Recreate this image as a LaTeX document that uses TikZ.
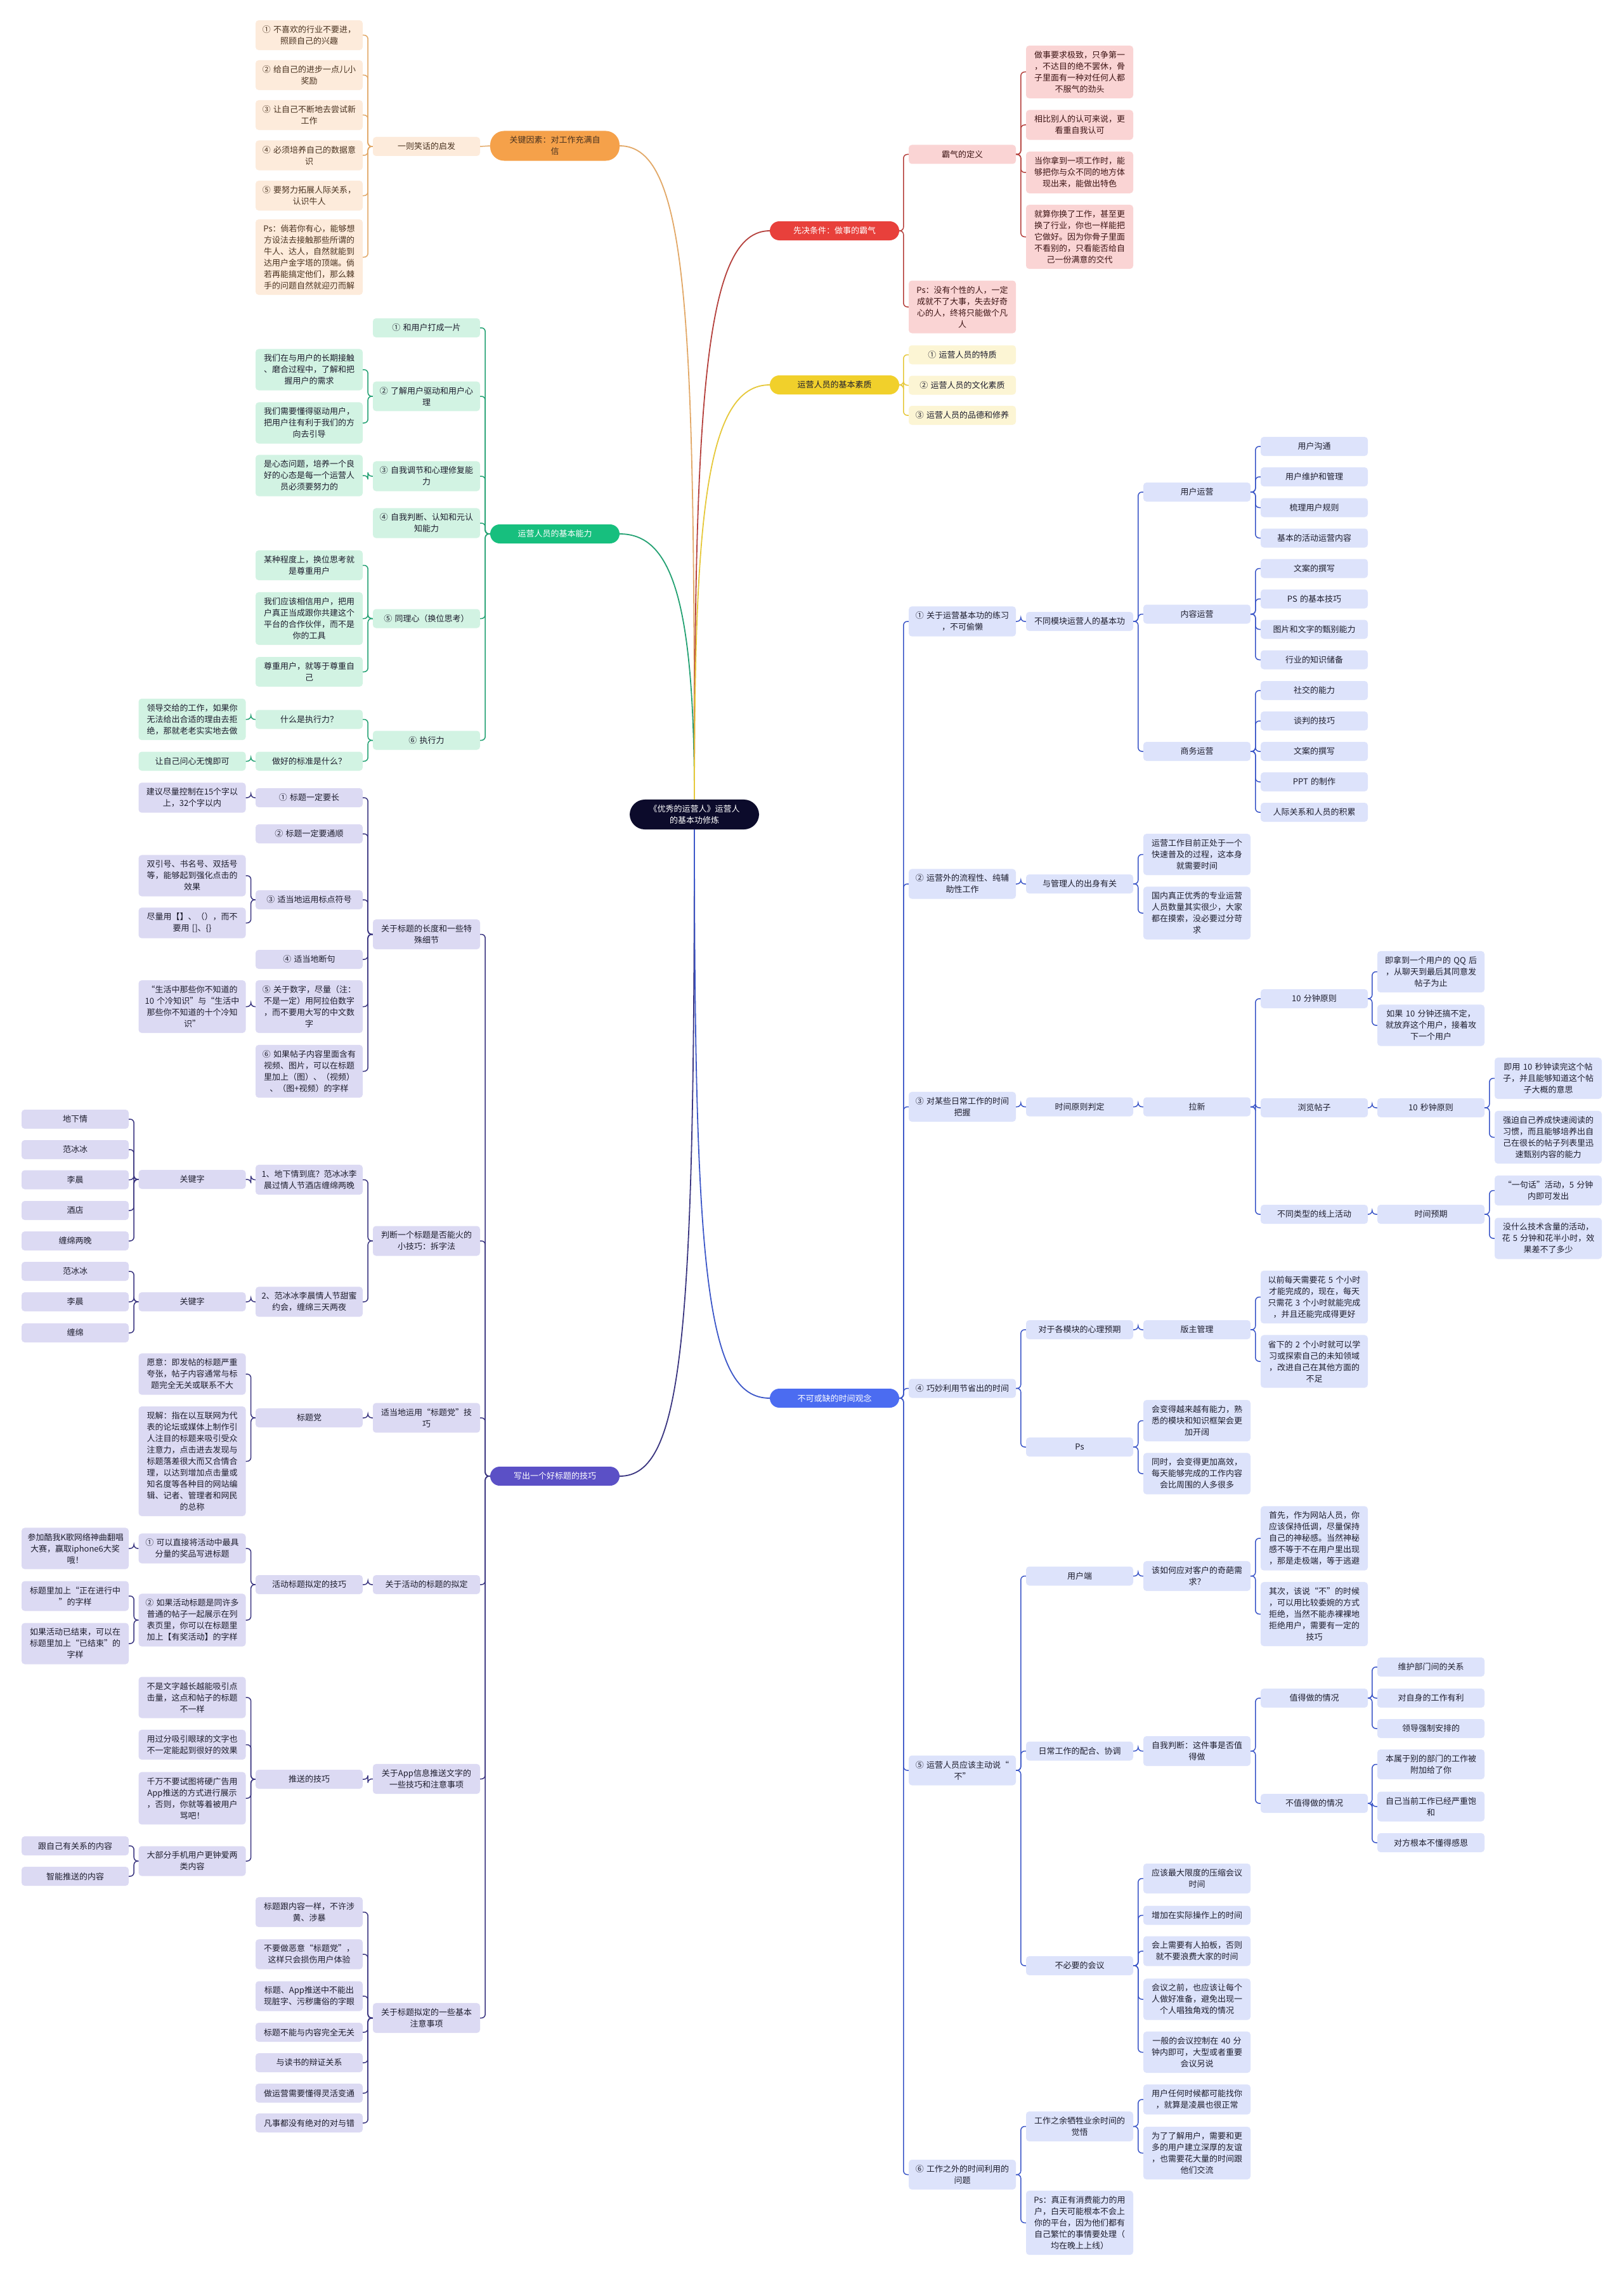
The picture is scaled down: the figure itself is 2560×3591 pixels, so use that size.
\documentclass[tikz,border=0pt]{standalone}
\usepackage{fontspec}
\setmainfont{Noto Sans CJK SC}
\usepackage{tikz}

\definecolor{rootfill}{HTML}{0C0B2B}
\definecolor{orgpill}{HTML}{F5A14A}
\definecolor{orgfill}{HTML}{FDEBDB}
\definecolor{orgline}{HTML}{E2A867}
\definecolor{orgtext}{HTML}{4A3320}
\definecolor{redpill}{HTML}{E8403B}
\definecolor{redfill}{HTML}{FAD4D4}
\definecolor{redline}{HTML}{B5403C}
\definecolor{redtext}{HTML}{3D1515}
\definecolor{yelpill}{HTML}{F1D02B}
\definecolor{yelfill}{HTML}{FCF5D4}
\definecolor{yelline}{HTML}{E6C83A}
\definecolor{grnpill}{HTML}{17BF7E}
\definecolor{grnfill}{HTML}{D2F3E3}
\definecolor{grnline}{HTML}{23A172}
\definecolor{purpill}{HTML}{5B50C6}
\definecolor{purfill}{HTML}{DCDAF3}
\definecolor{purline}{HTML}{3A3580}
\definecolor{blupill}{HTML}{4B6CF1}
\definecolor{blufill}{HTML}{DDE3FB}
\definecolor{bluline}{HTML}{3C57C8}
\definecolor{leaftext}{HTML}{1E1E2E}

\tikzset{
  leaf/.style={rounded corners=5pt, align=center, text width=150pt, inner xsep=9.5pt,
    inner ysep=8.5pt, minimum height=30pt, text=leaftext, font=\fontsize{13}{18}\selectfont},
  pill/.style={rounded corners=15pt, align=center, text width=150pt, inner xsep=27pt,
    inner ysep=8.5pt, minimum height=30pt, text=white, font=\fontsize{13}{18}\selectfont},
  root/.style={pill, fill=rootfill, rounded corners=24pt},
  orgpill/.style={pill, fill=orgpill, text=orgtext, rounded corners=22pt},
  redpill/.style={pill, fill=redpill},
  yelpill/.style={pill, fill=yelpill, text=leaftext},
  grnpill/.style={pill, fill=grnpill},
  purpill/.style={pill, fill=purpill},
  blupill/.style={pill, fill=blupill},
  orgleaf/.style={leaf, fill=orgfill, text=orgtext},
  redleaf/.style={leaf, fill=redfill, text=redtext},
  yelleaf/.style={leaf, fill=yelfill},
  grnleaf/.style={leaf, fill=grnfill},
  purleaf/.style={leaf, fill=purfill},
  bluleaf/.style={leaf, fill=blufill},
  link/.style={line width=1.5pt, rounded corners=6pt},
  orglink/.style={link, draw=orgline},
  redlink/.style={link, draw=redline},
  yellink/.style={link, draw=yelline},
  grnlink/.style={link, draw=grnline},
  purlink/.style={link, draw=purline},
  blulink/.style={link, draw=bluline},
}

\begin{document}
\begin{tikzpicture}[x=1pt,y=-1pt]
  \fill[white] (0,0) rectangle (2560,3591);
  \useasboundingbox (0,0) rectangle (2560,3591);

  \node[root] (root) at (1095,1284.5) {《优秀的运营人》运营人\\的基本功修炼};

  % orange
  \node[orgpill] (key) at (875,230) {关键因素：对工作充满自\\信};
  \node[orgleaf] (joke) at (672.5,231) {一则笑话的启发};
  \node[orgleaf] (o1) at (487.5,55.5) {① 不喜欢的行业不要进，\\照顾自己的兴趣};
  \node[orgleaf] (o2) at (487.5,118.5) {② 给自己的进步一点儿小\\奖励};
  \node[orgleaf] (o3) at (487.5,181.5) {③ 让自己不断地去尝试新\\工作};
  \node[orgleaf] (o4) at (487.5,245) {④ 必须培养自己的数据意\\识};
  \node[orgleaf] (o5) at (487.5,308.5) {⑤ 要努力拓展人际关系，\\认识牛人};
  \node[orgleaf] (o6) at (487.5,405.5) {Ps：倘若你有心，能够想\\方设法去接触那些所谓的\\牛人、达人，自然就能到\\达用户金字塔的顶端。倘\\若再能搞定他们，那么棘\\手的问题自然就迎刃而解};

  % red
  \node[redpill] (pre) at (1316,364) {先决条件：做事的霸气};
  \node[redleaf] (r1) at (1517.5,243.5) {霸气的定义};
  \node[redleaf] (r2) at (1517.5,484) {Ps：没有个性的人，一定\\成就不了大事，失去好奇\\心的人，终将只能做个凡\\人};
  \node[redleaf] (r11) at (1702.5,113.5) {做事要求极致，只争第一\\，不达目的绝不罢休，骨\\子里面有一种对任何人都\\不服气的劲头};
  \node[redleaf] (r12) at (1702.5,197) {相比别人的认可来说，更\\看重自我认可};
  \node[redleaf] (r13) at (1702.5,272) {当你拿到一项工作时，能\\够把你与众不同的地方体\\现出来，能做出特色};
  \node[redleaf] (r14) at (1702.5,373.5) {就算你换了工作，甚至更\\换了行业，你也一样能把\\它做好。因为你骨子里面\\不看别的，只看能否给自\\己一份满意的交代};

  % yellow
  \node[yelpill] (qual) at (1316,607) {运营人员的基本素质};
  \node[yelleaf] (y1) at (1517.5,559.5) {① 运营人员的特质};
  \node[yelleaf] (y2) at (1517.5,607.5) {② 运营人员的文化素质};
  \node[yelleaf] (y3) at (1517.5,655) {③ 运营人员的品德和修养};

  % green
  \node[grnpill] (abil) at (875,842) {运营人员的基本能力};
  \node[grnleaf] (g1) at (672.5,517) {① 和用户打成一片};
  \node[grnleaf] (g2) at (672.5,625) {② 了解用户驱动和用户心\\理};
  \node[grnleaf] (g3) at (672.5,751) {③ 自我调节和心理修复能\\力};
  \node[grnleaf] (g4) at (672.5,825) {④ 自我判断、认知和元认\\知能力};
  \node[grnleaf] (g5) at (672.5,975.5) {⑤ 同理心（换位思考）};
  \node[grnleaf] (g6) at (672.5,1167.5) {⑥ 执行力};
  \node[grnleaf] (g21) at (487.5,583) {我们在与用户的长期接触\\、磨合过程中，了解和把\\握用户的需求};
  \node[grnleaf] (g22) at (487.5,667) {我们需要懂得驱动用户，\\把用户往有利于我们的方\\向去引导};
  \node[grnleaf] (g31) at (487.5,750) {是心态问题，培养一个良\\好的心态是每一个运营人\\员必须要努力的};
  \node[grnleaf] (g51) at (487.5,891.5) {某种程度上，换位思考就\\是尊重用户};
  \node[grnleaf] (g52) at (487.5,975.5) {我们应该相信用户，把用\\户真正当成跟你共建这个\\平台的合作伙伴，而不是\\你的工具};
  \node[grnleaf] (g53) at (487.5,1059.5) {尊重用户，就等于尊重自\\己};
  \node[grnleaf] (g61) at (487.5,1134.5) {什么是执行力？};
  \node[grnleaf] (g62) at (487.5,1200.5) {做好的标准是什么？};
  \node[grnleaf] (g611) at (303,1134.5) {领导交给的工作，如果你\\无法给出合适的理由去拒\\绝，那就老老实实地去做};
  \node[grnleaf] (g621) at (303,1200.5) {让自己问心无愧即可};

  % purple
  \node[purpill] (title) at (875,2328) {写出一个好标题的技巧};
  \node[purleaf] (p1) at (672.5,1473.5) {关于标题的长度和一些特\\殊细节};
  \node[purleaf] (p2) at (672.5,1957) {判断一个标题是否能火的\\小技巧：拆字法};
  \node[purleaf] (p3) at (672.5,2236) {适当地运用“标题党”技\\巧};
  \node[purleaf] (p4) at (672.5,2499) {关于活动的标题的拟定};
  \node[purleaf] (p5) at (672.5,2805.5) {关于App信息推送文字的\\一些技巧和注意事项};
  \node[purleaf] (p6) at (672.5,3182.5) {关于标题拟定的一些基本\\注意事项};

  \node[purleaf] (p11) at (487.5,1258) {① 标题一定要长};
  \node[purleaf] (p12) at (487.5,1315) {② 标题一定要通顺};
  \node[purleaf] (p13) at (487.5,1419) {③ 适当地运用标点符号};
  \node[purleaf] (p14) at (487.5,1513) {④ 适当地断句};
  \node[purleaf] (p15) at (487.5,1587.5) {⑤ 关于数字，尽量（注：\\不是一定）用阿拉伯数字\\，而不要用大写的中文数\\字};
  \node[purleaf] (p16) at (487.5,1689.5) {⑥ 如果帖子内容里面含有\\视频、图片，可以在标题\\里加上（图）、（视频）\\、（图+视频）的字样};
  \node[purleaf] (p111) at (303,1258) {建议尽量控制在15个字以\\上，32个字以内};
  \node[purleaf] (p131) at (303,1381) {双引号、书名号、双括号\\等，能够起到强化点击的\\效果};
  \node[purleaf] (p132) at (303,1455.5) {尽量用【】、（），而不\\要用 []、\{\}};
  \node[purleaf] (p151) at (303,1587.5) {“生活中那些你不知道的\\10 个冷知识”与“生活中\\那些你不知道的十个冷知\\识”};

  \node[purleaf] (p21) at (487.5,1860.5) {1、地下情到底？范冰冰李\\晨过情人节酒店缠绵两晚};
  \node[purleaf] (p22) at (487.5,2053) {2、范冰冰李晨情人节甜蜜\\约会，缠绵三天两夜};
  \node[purleaf] (p211) at (303,1860) {关键字};
  \node[purleaf] (p221) at (303,2053) {关键字};
  \node[purleaf] (k1) at (118.5,1765) {地下情};
  \node[purleaf] (k2) at (118.5,1813) {范冰冰};
  \node[purleaf] (k3) at (118.5,1860.5) {李晨};
  \node[purleaf] (k4) at (118.5,1909) {酒店};
  \node[purleaf] (k5) at (118.5,1957) {缠绵两晚};
  \node[purleaf] (k6) at (118.5,2005) {范冰冰};
  \node[purleaf] (k7) at (118.5,2053) {李晨};
  \node[purleaf] (k8) at (118.5,2102) {缠绵};

  \node[purleaf] (p31) at (487.5,2236) {标题党};
  \node[purleaf] (p311) at (303,2167) {愿意：即发帖的标题严重\\夸张，帖子内容通常与标\\题完全无关或联系不大};
  \node[purleaf] (p312) at (303,2304.5) {现解：指在以互联网为代\\表的论坛或媒体上制作引\\人注目的标题来吸引受众\\注意力，点击进去发现与\\标题落差很大而又合情合\\理，以达到增加点击量或\\知名度等各种目的网站编\\辑、记者、管理者和网民\\的总称};

  \node[purleaf] (p41) at (487.5,2499) {活动标题拟定的技巧};
  \node[purleaf] (p411) at (303,2442) {① 可以直接将活动中最具\\分量的奖品写进标题};
  \node[purleaf] (p412) at (303,2555) {② 如果活动标题是同许多\\普通的帖子一起展示在列\\表页里，你可以在标题里\\加上【有奖活动】的字样};
  \node[purleaf] (p4111) at (118.5,2442) {参加酷我K歌网络神曲翻唱\\大赛，赢取iphone6大奖\\哦！};
  \node[purleaf] (p4121) at (118.5,2517) {标题里加上“正在进行中\\”的字样};
  \node[purleaf] (p4122) at (118.5,2592) {如果活动已结束，可以在\\标题里加上“已结束”的\\字样};

  \node[purleaf] (p51) at (487.5,2806) {推送的技巧};
  \node[purleaf] (p511) at (303,2677) {不是文字越长越能吸引点\\击量，这点和帖子的标题\\不一样};
  \node[purleaf] (p512) at (303,2751.5) {用过分吸引眼球的文字也\\不一定能起到很好的效果};
  \node[purleaf] (p513) at (303,2836) {千万不要试图将硬广告用\\App推送的方式进行展示\\，否则，你就等着被用户\\骂吧！};
  \node[purleaf] (p514) at (303,2935) {大部分手机用户更钟爱两\\类内容};
  \node[purleaf] (p5141) at (118.5,2911) {跟自己有关系的内容};
  \node[purleaf] (p5142) at (118.5,2959) {智能推送的内容};

  \node[purleaf] (p61) at (487.5,3015.5) {标题跟内容一样，不许涉\\黄、涉暴};
  \node[purleaf] (p62) at (487.5,3082) {不要做恶意“标题党”，\\这样只会损伤用户体验};
  \node[purleaf] (p63) at (487.5,3148) {标题、App推送中不能出\\现脏字、污秽庸俗的字眼};
  \node[purleaf] (p64) at (487.5,3205) {标题不能与内容完全无关};
  \node[purleaf] (p65) at (487.5,3253) {与读书的辩证关系};
  \node[purleaf] (p66) at (487.5,3301) {做运营需要懂得灵活变通};
  \node[purleaf] (p67) at (487.5,3348) {凡事都没有绝对的对与错};

  % blue
  \node[blupill] (time) at (1316,2205) {不可或缺的时间观念};
  \node[bluleaf] (b1) at (1517.5,980) {① 关于运营基本功的练习\\，不可偷懒};
  \node[bluleaf] (b2) at (1517.5,1394) {② 运营外的流程性、纯辅\\助性工作};
  \node[bluleaf] (b3) at (1517.5,1745.5) {③ 对某些日常工作的时间\\把握};
  \node[bluleaf] (b4) at (1517.5,2189.5) {④ 巧妙利用节省出的时间};
  \node[bluleaf] (b5) at (1517.5,2792) {⑤ 运营人员应该主动说“\\不”};
  \node[bluleaf] (b6) at (1517.5,3429.5) {⑥ 工作之外的时间利用的\\问题};

  \node[bluleaf] (b11) at (1702.5,980) {不同模块运营人的基本功};
  \node[bluleaf] (b111) at (1887.5,776) {用户运营};
  \node[bluleaf] (b112) at (1887.5,968.5) {内容运营};
  \node[bluleaf] (b113) at (1887.5,1185) {商务运营};
  \node[bluleaf] (u1) at (2072.5,704) {用户沟通};
  \node[bluleaf] (u2) at (2072.5,752) {用户维护和管理};
  \node[bluleaf] (u3) at (2072.5,800.5) {梳理用户规则};
  \node[bluleaf] (u4) at (2072.5,848.5) {基本的活动运营内容};
  \node[bluleaf] (c1) at (2072.5,896.5) {文案的撰写};
  \node[bluleaf] (c2) at (2072.5,944.5) {PS 的基本技巧};
  \node[bluleaf] (c3) at (2072.5,992.5) {图片和文字的甄别能力};
  \node[bluleaf] (c4) at (2072.5,1040.5) {行业的知识储备};
  \node[bluleaf] (s1) at (2072.5,1089) {社交的能力};
  \node[bluleaf] (s2) at (2072.5,1137) {谈判的技巧};
  \node[bluleaf] (s3) at (2072.5,1185) {文案的撰写};
  \node[bluleaf] (s4) at (2072.5,1233) {PPT 的制作};
  \node[bluleaf] (s5) at (2072.5,1281) {人际关系和人员的积累};

  \node[bluleaf] (b21) at (1702.5,1394) {与管理人的出身有关};
  \node[bluleaf] (b211) at (1887.5,1347.5) {运营工作目前正处于一个\\快速普及的过程，这本身\\就需要时间};
  \node[bluleaf] (b212) at (1887.5,1440) {国内真正优秀的专业运营\\人员数量其实很少，大家\\都在摸索，没必要过分苛\\求};

  \node[bluleaf] (b31) at (1702.5,1745.5) {时间原则判定};
  \node[bluleaf] (b311) at (1887.5,1745.5) {拉新};
  \node[bluleaf] (tenmin) at (2072.5,1575) {10 分钟原则};
  \node[bluleaf] (post) at (2072.5,1747) {浏览帖子};
  \node[bluleaf] (online) at (2072.5,1915) {不同类型的线上活动};
  \node[bluleaf] (tm1) at (2256.5,1532.5) {即拿到一个用户的 QQ 后\\，从聊天到最后其同意发\\帖子为止};
  \node[bluleaf] (tm2) at (2256.5,1617) {如果 10 分钟还搞不定，\\就放弃这个用户，接着攻\\下一个用户};
  \node[bluleaf] (tensec) at (2256.5,1747) {10 秒钟原则};
  \node[bluleaf] (expect) at (2256.5,1915) {时间预期};
  \node[bluleaf] (ts1) at (2441.5,1700.5) {即用 10 秒钟读完这个帖\\子，并且能够知道这个帖\\子大概的意思};
  \node[bluleaf] (ts2) at (2441.5,1793.5) {强迫自己养成快速阅读的\\习惯，而且能够培养出自\\己在很长的帖子列表里迅\\速甄别内容的能力};
  \node[bluleaf] (ex1) at (2441.5,1877.5) {“一句话”活动，5 分钟\\内即可发出};
  \node[bluleaf] (ex2) at (2441.5,1953) {没什么技术含量的活动，\\花 5 分钟和花半小时，效\\果差不了多少};

  \node[bluleaf] (b41) at (1702.5,2097) {对于各模块的心理预期};
  \node[bluleaf] (b42) at (1702.5,2282) {Ps};
  \node[bluleaf] (b411) at (1887.5,2097) {版主管理};
  \node[bluleaf] (b4111) at (2072.5,2045.5) {以前每天需要花 5 个小时\\才能完成的，现在，每天\\只需花 3 个小时就能完成\\，并且还能完成得更好};
  \node[bluleaf] (b4112) at (2072.5,2147) {省下的 2 个小时就可以学\\习或探索自己的未知领域\\，改进自己在其他方面的\\不足};
  \node[bluleaf] (b421) at (1887.5,2240.5) {会变得越来越有能力，熟\\悉的模块和知识框架会更\\加开阔};
  \node[bluleaf] (b422) at (1887.5,2324) {同时，会变得更加高效，\\每天能够完成的工作内容\\会比周围的人多很多};

  \node[bluleaf] (b51) at (1702.5,2485.5) {用户端};
  \node[bluleaf] (b52) at (1702.5,2761.5) {日常工作的配合、协调};
  \node[bluleaf] (b53) at (1702.5,3100) {不必要的会议};
  \node[bluleaf] (b511) at (1887.5,2485.5) {该如何应对客户的奇葩需\\求？};
  \node[bluleaf] (b5111) at (2072.5,2426) {首先，作为网站人员，你\\应该保持低调，尽量保持\\自己的神秘感。当然神秘\\感不等于不在用户里出现\\，那是走极端，等于逃避};
  \node[bluleaf] (b5112) at (2072.5,2545.5) {其次，该说“不”的时候\\，可以用比较委婉的方式\\拒绝，当然不能赤裸裸地\\拒绝用户，需要有一定的\\技巧};
  \node[bluleaf] (b521) at (1887.5,2761.5) {自我判断：这件事是否值\\得做};
  \node[bluleaf] (worth) at (2072.5,2678) {值得做的情况};
  \node[bluleaf] (nworth) at (2072.5,2844) {不值得做的情况};
  \node[bluleaf] (w1) at (2256.5,2629) {维护部门间的关系};
  \node[bluleaf] (w2) at (2256.5,2678) {对自身的工作有利};
  \node[bluleaf] (w3) at (2256.5,2726) {领导强制安排的};
  \node[bluleaf] (n1) at (2256.5,2782.5) {本属于别的部门的工作被\\附加给了你};
  \node[bluleaf] (n2) at (2256.5,2849) {自己当前工作已经严重饱\\和};
  \node[bluleaf] (n3) at (2256.5,2906) {对方根本不懂得感恩};
  \node[bluleaf] (m1) at (1887.5,2962.5) {应该最大限度的压缩会议\\时间};
  \node[bluleaf] (m2) at (1887.5,3020.5) {增加在实际操作上的时间};
  \node[bluleaf] (m3) at (1887.5,3077) {会上需要有人拍板，否则\\就不要浪费大家的时间};
  \node[bluleaf] (m4) at (1887.5,3153) {会议之前，也应该让每个\\人做好准备，避免出现一\\个人唱独角戏的情况};
  \node[bluleaf] (m5) at (1887.5,3236.5) {一般的会议控制在 40 分\\钟内即可，大型或者重要\\会议另说};

  \node[bluleaf] (b61) at (1702.5,3353.5) {工作之余牺牲业余时间的\\觉悟};
  \node[bluleaf] (b62) at (1702.5,3505.5) {Ps：真正有消费能力的用\\户，白天可能根本不会上\\你的平台，因为他们都有\\自己繁忙的事情要处理（\\均在晚上上线）};
  \node[bluleaf] (b611) at (1887.5,3311) {用户任何时候都可能找你\\，就算是凌晨也很正常};
  \node[bluleaf] (b612) at (1887.5,3395.5) {为了了解用户，需要和更\\多的用户建立深厚的友谊\\，也需要花大量的时间跟\\他们交流};

  % root curves
  \draw[orglink,line width=1.8pt] (root.north) .. controls +(0,-750) and +(110,0) .. (key.east);
  \draw[grnlink,line width=1.8pt] (root.north) .. controls +(0,-320) and +(80,0) .. (abil.east);
  \draw[redlink,line width=1.8pt] (root.north) .. controls +(0,-650) and +(-100,0) .. (pre.west);
  \draw[yellink,line width=1.8pt] (root.north) .. controls +(0,-450) and +(-100,0) .. (qual.west);
  \draw[purlink,line width=1.8pt] (root.south) .. controls +(0,800) and +(100,0) .. (title.east);
  \draw[blulink,line width=1.8pt] (root.south) .. controls +(0,700) and +(-100,0) .. (time.west);

  % left side
  \draw[orglink] (key.west) -- (joke.east);
  \foreach \c in {o1,o2,o3,o4,o5,o6}
    \draw[orglink] (joke.west) -| ([xshift=8pt]\c.east) -- (\c.east);
  \foreach \c in {g1,g2,g3,g4,g5,g6}
    \draw[grnlink] (abil.west) -| ([xshift=8pt]\c.east) -- (\c.east);
  \foreach \p/\c in {g2/g21,g2/g22,g3/g31,g5/g51,g5/g52,g5/g53,g6/g61,g6/g62,g61/g611,g62/g621}
    \draw[grnlink] (\p.west) -| ([xshift=8pt]\c.east) -- (\c.east);
  \foreach \c in {p1,p2,p3,p4,p5,p6}
    \draw[purlink] (title.west) -| ([xshift=8pt]\c.east) -- (\c.east);
  \foreach \p/\c in {p1/p11,p1/p12,p1/p13,p1/p14,p1/p15,p1/p16,p11/p111,p13/p131,p13/p132,p15/p151,
      p2/p21,p2/p22,p21/p211,p22/p221,p211/k1,p211/k2,p211/k3,p211/k4,p211/k5,p221/k6,p221/k7,p221/k8,
      p3/p31,p31/p311,p31/p312,p4/p41,p41/p411,p41/p412,p411/p4111,p412/p4121,p412/p4122,
      p5/p51,p51/p511,p51/p512,p51/p513,p51/p514,p514/p5141,p514/p5142,
      p6/p61,p6/p62,p6/p63,p6/p64,p6/p65,p6/p66,p6/p67}
    \draw[purlink] (\p.west) -| ([xshift=8pt]\c.east) -- (\c.east);

  % right side
  \foreach \p/\c in {pre/r1,pre/r2,r1/r11,r1/r12,r1/r13,r1/r14}
    \draw[redlink] (\p.east) -| ([xshift=-8pt]\c.west) -- (\c.west);
  \foreach \c in {y1,y2,y3}
    \draw[yellink] (qual.east) -| ([xshift=-8pt]\c.west) -- (\c.west);
  \foreach \c in {b1,b2,b3,b4,b5,b6}
    \draw[blulink] (time.east) -| ([xshift=-8pt]\c.west) -- (\c.west);
  \foreach \p/\c in {b1/b11,b11/b111,b11/b112,b11/b113,b111/u1,b111/u2,b111/u3,b111/u4,
      b112/c1,b112/c2,b112/c3,b112/c4,b113/s1,b113/s2,b113/s3,b113/s4,b113/s5,
      b2/b21,b21/b211,b21/b212,
      b3/b31,b31/b311,b311/tenmin,b311/post,b311/online,tenmin/tm1,tenmin/tm2,post/tensec,
      tensec/ts1,tensec/ts2,online/expect,expect/ex1,expect/ex2,
      b4/b41,b4/b42,b41/b411,b411/b4111,b411/b4112,b42/b421,b42/b422,
      b5/b51,b5/b52,b5/b53,b51/b511,b511/b5111,b511/b5112,b52/b521,b521/worth,b521/nworth,
      worth/w1,worth/w2,worth/w3,nworth/n1,nworth/n2,nworth/n3,
      b53/m1,b53/m2,b53/m3,b53/m4,b53/m5,b6/b61,b6/b62,b61/b611,b61/b612}
    \draw[blulink] (\p.east) -| ([xshift=-8pt]\c.west) -- (\c.west);
\end{tikzpicture}
\end{document}
